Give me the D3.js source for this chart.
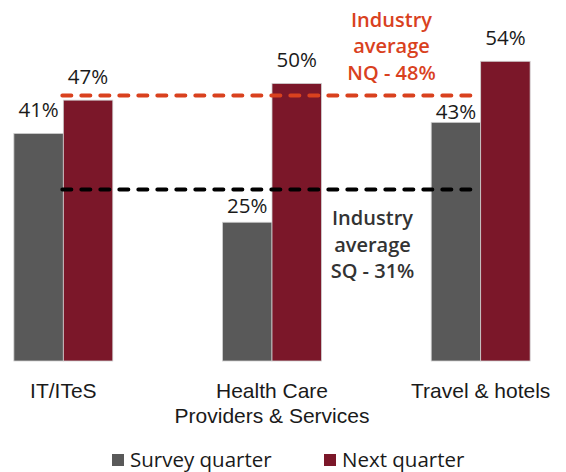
<!DOCTYPE html>
<html>
<head>
<meta charset="utf-8">
<script src="https://cdn.jsdelivr.net/npm/d3@7"></script>
<style>
  html, body { margin: 0; padding: 0; background: #fff; }
  svg { display: block; font-family: "Open Sans", sans-serif; }
</style>
</head>
<body>
<svg id="chart" width="566" height="472"></svg>
<script>
// chart data
const categories = ['IT/ITeS', 'Health Care\nProviders & Services', 'Travel & hotels'];
const seriesNames = ['Survey quarter', 'Next quarter'];
const surveyQuarter = [41, 25, 43];
const nextQuarter = [47, 50, 54];
const averageSQ = 31;
const averageNQ = 48;
const noteNQ = ['Industry', 'average', 'NQ - 48%'];
const noteSQ = ['Industry', 'average', 'SQ - 31%'];

const colors = { 'Survey quarter': '#595959', 'Next quarter': '#7b1729' };

const svg = d3.select('#chart');

const x = d3.scaleBand()
  .domain(categories)
  .range([-41, 585])
  .paddingInner(0.526)
  .paddingOuter(0.263);

const xSeries = d3.scaleBand()
  .domain(seriesNames)
  .range([0, x.bandwidth()]);

const y = d3.scaleLinear()
  .domain([0, 60])
  .range([361, 28]);

const rows = categories.map((c, i) => ({ cat: c, values: [
  { key: 'Survey quarter', value: surveyQuarter[i] },
  { key: 'Next quarter', value: nextQuarter[i] }
] }));

const groups = svg.append('g').selectAll('g')
  .data(rows)
  .enter()
  .append('g')
  .attr('transform', d => `translate(${x(d.cat)},0)`);

groups.selectAll('rect')
  .data(d => d.values)
  .enter()
  .append('rect')
  .attr('x', d => xSeries(d.key))
  .attr('y', d => y(d.value))
  .attr('width', xSeries.bandwidth())
  .attr('height', d => y(0) - y(d.value))
  .attr('fill', d => colors[d.key])
  .attr('stroke', '#d0d0d0')
  .attr('stroke-width', 0.8);

// value labels: sit above the bar, or just below an average line if they would hit it
const avgLines = [averageNQ, averageSQ].map(v => y(v));
function labelY(v) {
  let base = y(v) - 16.5;
  avgLines.forEach(ly => {
    if (base - 15 < ly + 3 && base > ly - 3) base = ly + 24;
  });
  return base;
}

groups.selectAll('text.val')
  .data(d => d.values)
  .enter()
  .append('text')
  .attr('class', 'val')
  .attr('x', d => xSeries(d.key) + xSeries.bandwidth() / 2)
  .attr('y', d => labelY(d.value))
  .attr('text-anchor', 'middle')
  .attr('font-size', 20.5)
  .attr('fill', '#1a1a1a')
  .text(d => d.value + '%');

// category axis labels (no axis line)
const xAxis = svg.append('g')
  .attr('transform', `translate(0,${y(0)})`)
  .call(d3.axisBottom(x).tickSize(0).tickFormat(''));
xAxis.select('.domain').remove();

xAxis.selectAll('.tick')
  .append('text')
  .attr('text-anchor', 'middle')
  .attr('font-size', 21)
  .attr('fill', '#1a1a1a')
  .selectAll('tspan')
  .data(d => d.split('\n'))
  .enter()
  .append('tspan')
  .attr('x', 0)
  .attr('y', (d, i) => 36.5 + i * 25)
  .text(d => d);

// average lines, from first group middle to last group middle
const lineX0 = x(categories[0]) + x.bandwidth() / 2 - 1;
const lineX1 = x(categories[2]) + x.bandwidth() / 2 - 2;

const averages = [
  { value: averageNQ, color: '#d9411e' },
  { value: averageSQ, color: '#000000' }
];

svg.append('g').selectAll('line')
  .data(averages)
  .enter()
  .append('line')
  .attr('x1', lineX0)
  .attr('x2', lineX1)
  .attr('y1', d => Math.round(y(d.value)) + 0.5)
  .attr('y2', d => Math.round(y(d.value)) + 0.5)
  .attr('stroke', d => d.color)
  .attr('stroke-width', 4)
  .attr('stroke-linecap', 'round')
  .attr('stroke-dasharray', '9 10');

// annotations
function note(lines, cx, y0, color) {
  svg.append('text')
    .attr('text-anchor', 'middle')
    .attr('font-size', 20)
    .attr('font-weight', 600)
    .attr('fill', color)
    .selectAll('tspan')
    .data(lines)
    .enter()
    .append('tspan')
    .attr('x', cx)
    .attr('y', (d, i) => y0 + i * 26.7)
    .text(d => d);
}
note(noteNQ, 391.5, 26.7, '#d9411e');
note(noteSQ, 372.5, 225, '#333333');

// legend
const legend = svg.append('g').selectAll('g')
  .data(seriesNames)
  .enter()
  .append('g')
  .attr('transform', (d, i) => `translate(${[112, 324][i]},454)`);

legend.append('rect')
  .attr('width', 12)
  .attr('height', 12)
  .attr('fill', d => colors[d]);

legend.append('text')
  .attr('x', 18)
  .attr('y', 13)
  .attr('font-size', 20.5)
  .attr('fill', '#1a1a1a')
  .text(d => d);
</script>
</body>
</html>
